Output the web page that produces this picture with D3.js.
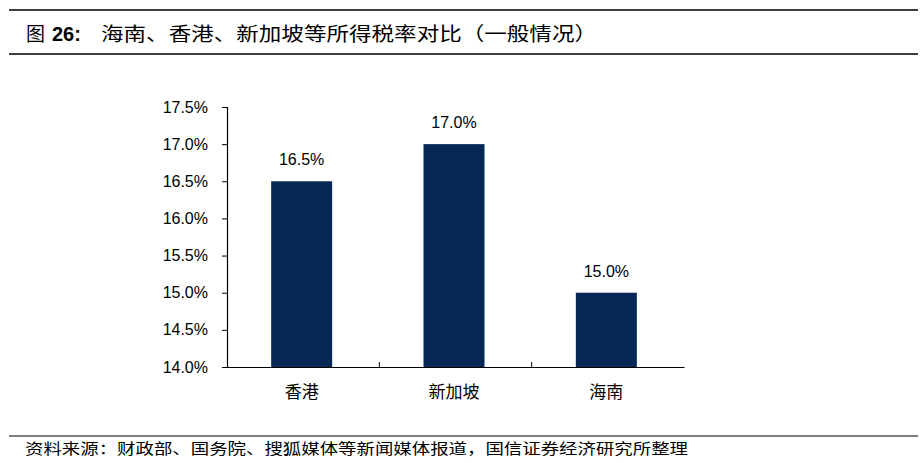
<!DOCTYPE html>
<html>
<head>
<meta charset="utf-8">
<script src="https://cdn.jsdelivr.net/npm/d3@7"></script>
<style>
  body { margin: 0; background: #fff; }
  svg { display: block; }
</style>
</head>
<body>
<div id="chart"></div>
<script>
'use strict'

// chart data
const regions = ["香港", "新加坡", "海南"]
const taxRates = [16.5, 17.0, 15.0]
const yTicks = [14.0, 14.5, 15.0, 15.5, 16.0, 16.5, 17.0, 17.5]

const titleLead = "图"
const titleNum = "26:"
const titleText = "海南、香港、新加坡等所得税率对比（一般情况）"
const sourceText = "资料来源：财政部、国务院、搜狐媒体等新闻媒体报道，国信证券经济研究所整理"

const W = 924, H = 463
const cjk = "'Noto Sans CJK SC', 'Noto Sans', sans-serif"
const latin = "'Liberation Sans', Arial, sans-serif"
const barColor = "#052855"

let svg = d3.select("#chart").append("svg").attr("width", W).attr("height", H)

// header rules and title
svg.append("line").attr("x1", 9).attr("x2", 918).attr("y1", 10).attr("y2", 10)
  .attr("stroke", "#000").attr("stroke-width", 1.5)
svg.append("line").attr("x1", 9).attr("x2", 918).attr("y1", 54).attr("y2", 54)
  .attr("stroke", "#000").attr("stroke-width", 1.5)

svg.append("text").attr("x", 26).attr("y", 41)
  .attr("font-family", cjk).attr("font-size", 19).attr("fill", "#000")
  .text(titleLead)
svg.append("text").attr("x", 52).attr("y", 41)
  .attr("font-family", latin).attr("font-weight", "bold").attr("font-size", 20).attr("fill", "#000")
  .text(titleNum)
svg.append("text").attr("x", 101).attr("y", 41)
  .attr("font-family", cjk).attr("font-size", 19).attr("fill", "#000")
  .attr("textLength", 496).attr("lengthAdjust", "spacingAndGlyphs")
  .text(titleText)

// footer
svg.append("line").attr("x1", 9).attr("x2", 918).attr("y1", 436).attr("y2", 436)
  .attr("stroke", "#000").attr("stroke-width", 1.2)
svg.append("text").attr("x", 25).attr("y", 454)
  .attr("font-family", cjk).attr("font-size", 15).attr("fill", "#000")
  .attr("textLength", 663).attr("lengthAdjust", "spacingAndGlyphs")
  .text(sourceText)

// plot
let plot = {left: 227, right: 684, top: 107, bottom: 367}

let xScale = d3.scaleBand().domain(regions).range([plot.left, plot.right])
let yScale = d3.scaleLinear().domain([14.0, 17.5]).range([plot.bottom, plot.top])

let barW = 61

svg.selectAll(".bar")
  .data(taxRates)
  .enter()
  .append("rect")
  .attr("class", "bar")
  .attr("x", function(d, i){ return xScale(regions[i]) + xScale.bandwidth() / 2 - barW / 2 - 1.5 })
  .attr("y", function(d){ return yScale(d) })
  .attr("width", barW)
  .attr("height", function(d){ return plot.bottom - yScale(d) })
  .attr("fill", barColor)

svg.selectAll(".val")
  .data(taxRates)
  .enter()
  .append("text")
  .attr("class", "val")
  .attr("x", function(d, i){ return xScale(regions[i]) + xScale.bandwidth() / 2 - 1.5 })
  .attr("y", function(d){ return yScale(d) - 16 })
  .attr("text-anchor", "middle")
  .attr("font-family", latin).attr("font-size", 16).attr("fill", "#000")
  .text(function(d){ return d.toFixed(1) + "%" })

// y axis
let yAxis = svg.append("g")
  .attr("transform", "translate(" + plot.left + ",0)")
  .call(d3.axisLeft(yScale).tickValues(yTicks).tickSize(5).tickSizeOuter(5)
    .tickFormat(function(d){ return d.toFixed(1) + "%" }))
yAxis.select(".domain").attr("stroke", "#000").attr("stroke-width", 1.2)
yAxis.selectAll(".tick line").attr("stroke", "#000")
yAxis.selectAll(".tick text").attr("font-family", latin).attr("font-size", 16)
  .attr("fill", "#000").attr("x", -19)

// x axis
let xAxis = svg.append("g")
  .attr("transform", "translate(0," + plot.bottom + ")")
  .call(d3.axisBottom(xScale).tickSize(0).tickSizeOuter(0))
xAxis.select(".domain").attr("stroke", "#000").attr("stroke-width", 1.2)
xAxis.selectAll(".tick text").attr("font-family", cjk).attr("font-size", 17)
  .attr("fill", "#000").attr("dy", 0).attr("y", 31)
  .attr("transform", "translate(-1.5,0)")

// category separator ticks (upward)
let seps = regions.slice(1).map(function(r){ return xScale(r) })
xAxis.selectAll(".sep")
  .data(seps)
  .enter()
  .append("line")
  .attr("class", "sep")
  .attr("x1", function(d){ return d }).attr("x2", function(d){ return d })
  .attr("y1", 0).attr("y2", -5)
  .attr("stroke", "#000")
</script>
</body>
</html>
